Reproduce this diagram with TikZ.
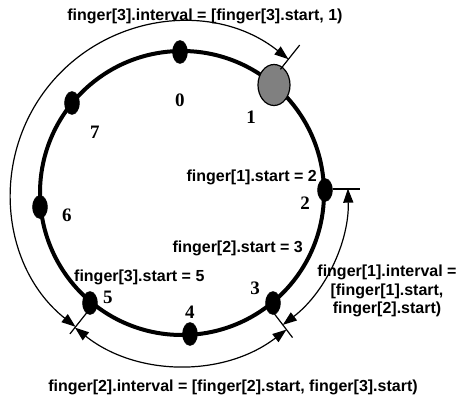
\documentclass[tikz,border=0pt]{standalone}
\usepackage{fontspec}
\setmainfont{Liberation Serif}
\newfontfamily\labfont{Liberation Sans}
\usetikzlibrary{shapes.geometric,arrows.meta}
\tikzset{
  ring/.style={line width=4pt},
  peer/.style={ellipse,fill=black,draw=black,inner sep=0pt,minimum width=15pt,minimum height=23pt},
  bigpeer/.style={ellipse,fill=black!50,draw=black,line width=1.2pt,inner sep=0pt,minimum width=32pt,minimum height=41pt},
  num/.style={font=\bfseries\fontsize{19}{20}\selectfont,inner sep=0pt},
  lbl/.style={font=\labfont\bfseries\fontsize{16}{18.5}\selectfont,inner sep=0pt},
  tick/.style={line width=1.2pt},
  interval/.style={line width=1.2pt,{Triangle[length=14pt,width=10pt]}-{Triangle[length=14pt,width=10pt]}},
}
\begin{document}
\begin{tikzpicture}[x=1pt,y=1pt]
\useasboundingbox (-182,-206) rectangle (284,193);
\coordinate (C) at (0,0);
\draw[ring] (C) circle[radius=142];
% peers
\node[peer] (n0) at (-2,141) {};
\node[bigpeer] (n1) at (92,108) {};
\node[peer] (n2) at (143,3) {};
\node[peer] (n3) at (91,-110) {};
\node[peer] (n4) at (8,-141) {};
\node[peer] (n5) at (-92,-110) {};
\node[peer] (n6) at (-142,-14) {};
\node[peer] (n7) at (-110,90) {};
% numbers
\node[num] (l0) at (-2,93) {0};
\node[num] (l1) at (69,76) {1};
\node[num] (l2) at (123,-10) {2};
\node[num] (l3) at (73,-95) {3};
\node[num] (l4) at (8,-119) {4};
\node[num] (l5) at (-74,-104) {5};
\node[num] (l6) at (-115,-22) {6};
\node[num] (l7) at (-87,61) {7};
% ticks
\coordinate (t1a) at (51.5:158);
\coordinate (t1b) at (51.5:189);
\coordinate (t2a) at (151,4);
\coordinate (t2b) at (178,4);
\coordinate (t5a) at (-128.5:150);
\coordinate (t5b) at (-128.5:180);
\coordinate (t3a) at (-52.6:148);
\coordinate (t3b) at (-52.6:182);
\draw[tick] (t1a) -- (t1b);
\draw[tick] (t2a) -- (t2b);
\draw[tick] (t5a) -- (t5b);
\draw[tick] (t3a) -- (t3b);
% interval arcs
\coordinate (a3s) at (-128.5:171);
\coordinate (a1s) at (1.5:166);
\coordinate (a2s) at (-128.5:172);
\draw[interval] (a3s) arc[start angle=231.5,end angle=51.5,radius=171];
\draw[interval] (a1s) arc[start angle=1.5,end angle=-52.6,radius=166];
\draw[interval] (a2s) arc[start angle=-128.5,end angle=-52.6,radius=172];
% labels
\node[lbl] (top) at (23,177) {finger[3].interval = [finger[3].start, 1)};
\node[lbl,anchor=east] (f1s) at (135,16) {finger[1].start = 2};
\node[lbl,anchor=east] (f2s) at (121,-55) {finger[2].start = 3};
\node[lbl,anchor=west] (f3s) at (-108,-84) {finger[3].start = 5};
\node[lbl,align=center] (f1i) at (205,-98) {finger[1].interval =\\{}[finger[1].start,\\ finger[2].start)};
\node[lbl] (bot) at (51,-194) {finger[2].interval = [finger[2].start, finger[3].start)};
\end{tikzpicture}
\end{document}
